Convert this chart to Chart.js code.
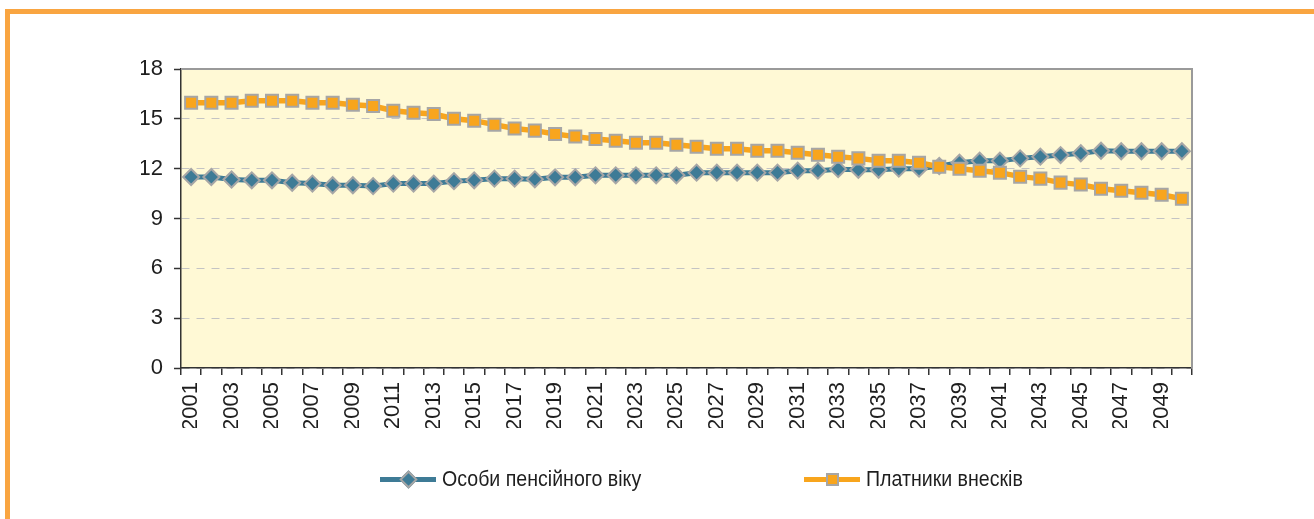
<!DOCTYPE html>
<html lang="uk">
<head>
<meta charset="utf-8">
<title>Особи пенсійного віку та платники внесків</title>
<script src="https://cdn.jsdelivr.net/npm/chart.js@4.4.1/dist/chart.umd.min.js"></script>
<style>
    html, body { margin: 0; padding: 0; background: #fff; }
    body { width: 1314px; height: 519px; position: relative; overflow: hidden;
           font-family: "Liberation Sans Narrow", "Arial Narrow", "Liberation Sans", Arial, sans-serif; }
    .frame { position: absolute; left: 5px; top: 9px; width: 1400px; height: 600px;
             border-top: 5px solid #F9A541; border-left: 5px solid #F9A541; }
    #chart { position: absolute; left: 0; top: 0; }
    .legend-item { position: absolute; top: 465px; height: 28px; display: flex; align-items: center; }
    .legend-icon { position: relative; width: 56px; height: 5px; margin-right: 6px; flex: none; }
    .legend-icon .mark { position: absolute; left: 50%; top: 50%; box-sizing: border-box; border: 2px solid #A6A6A6; }
    .legend-text { font-size: 22px; color: #1e1e1e; white-space: nowrap;
                   display: inline-block; transform: scaleX(0.89); transform-origin: left center; }
</style>
</head>
<body>
<div class="frame"></div>
<canvas id="chart" width="1314" height="519"></canvas>

<div class="legend-item" style="left: 380px;">
    <div class="legend-icon" style="background:#3E7B96;">
        <div class="mark" style="width:13px;height:13px;margin:-6.5px 0 0 -6.5px;background:#3E7B96;transform:rotate(45deg);"></div>
    </div>
    <span class="legend-text">Особи пенсійного віку</span>
</div>
<div class="legend-item" style="left: 804px;">
    <div class="legend-icon" style="background:#F8A51D;">
        <div class="mark" style="width:13px;height:13px;margin:-6.5px 0 0 -6.5px;background:#F8A51D;"></div>
    </div>
    <span class="legend-text">Платники внесків</span>
</div>

<script>
// Роки (категорії осі X)
const years = [
    "2001", "2002", "2003", "2004", "2005", "2006", "2007", "2008", "2009", "2010",
    "2011", "2012", "2013", "2014", "2015", "2016", "2017", "2018", "2019", "2020",
    "2021", "2022", "2023", "2024", "2025", "2026", "2027", "2028", "2029", "2030",
    "2031", "2032", "2033", "2034", "2035", "2036", "2037", "2038", "2039", "2040",
    "2041", "2042", "2043", "2044", "2045", "2046", "2047", "2048", "2049", "2050"
];

// Особи пенсійного віку
const pensioners = [
    11.5, 11.5, 11.35, 11.3, 11.3, 11.15, 11.1, 11.0, 11.0, 10.95,
    11.1, 11.1, 11.1, 11.25, 11.3, 11.4, 11.4, 11.36, 11.48, 11.48,
    11.6, 11.6, 11.6, 11.6, 11.6, 11.76, 11.76, 11.76, 11.76, 11.76,
    11.88, 11.88, 11.97, 11.93, 11.93, 12.0, 12.0, 12.16, 12.36, 12.48,
    12.48, 12.62, 12.72, 12.82, 12.93, 13.08, 13.05, 13.05, 13.05, 13.05
];

// Платники внесків
const contributors = [
    15.97, 15.97, 15.97, 16.09, 16.09, 16.09, 15.97, 15.97, 15.85, 15.77,
    15.49, 15.37, 15.29, 15.01, 14.89, 14.65, 14.42, 14.29, 14.09, 13.93,
    13.79, 13.68, 13.56, 13.56, 13.44, 13.32, 13.2, 13.2, 13.08, 13.08,
    12.96, 12.84, 12.72, 12.62, 12.48, 12.48, 12.36, 12.12, 12.0, 11.88,
    11.76, 11.52, 11.4, 11.16, 11.04, 10.79, 10.67, 10.55, 10.43, 10.19
];

// Підписи осі Y
const yTicks = [0, 3, 6, 9, 12, 15, 18];

const FONT = "'Liberation Sans Narrow', 'Arial Narrow', 'Liberation Sans', Arial, sans-serif";

// Фон області побудови та рамка зверху/справа
const plotFrame = {
    id: "plotFrame",
    beforeDraw(chart) {
        const { ctx, chartArea: a } = chart;
        ctx.save();
        ctx.fillStyle = "#FFF9D5";
        ctx.fillRect(a.left, a.top, a.right - a.left, a.bottom - a.top);
        ctx.restore();
    },
    afterDatasetsDraw(chart) {
        const { ctx, chartArea: a } = chart;
        ctx.save();
        ctx.strokeStyle = "#9A9A9A";
        ctx.lineWidth = 2;
        ctx.beginPath();
        ctx.moveTo(a.left, a.top);
        ctx.lineTo(a.right, a.top);
        ctx.lineTo(a.right, a.bottom);
        ctx.stroke();
        ctx.restore();
    }
};

new Chart(document.getElementById("chart"), {
    type: "line",
    data: {
        labels: years,
        datasets: [
            {
                label: "Платники внесків",
                data: contributors,
                borderColor: "#F8A51D",
                borderWidth: 5.5,
                pointStyle: "rect",
                pointRadius: 8.5,
                pointBackgroundColor: "#F8A51D",
                pointBorderColor: "#A6A6A6",
                pointBorderWidth: 2,
                tension: 0
            },
            {
                label: "Особи пенсійного віку",
                data: pensioners,
                borderColor: "#3E7B96",
                borderWidth: 5,
                pointStyle: "rectRot",
                pointRadius: 8,
                pointBackgroundColor: "#3E7B96",
                pointBorderColor: "#A6A6A6",
                pointBorderWidth: 2,
                tension: 0
            }
        ]
    },
    options: {
        responsive: false,
        animation: false,
        layout: { padding: { left: 141, right: 122, top: 69, bottom: 91 } },
        plugins: {
            legend: { display: false },
            tooltip: { enabled: false }
        },
        scales: {
            x: {
                type: "category",
                offset: true,
                grid: {
                    offset: true,
                    drawOnChartArea: false,
                    tickLength: 7,
                    tickColor: "#333",
                    lineWidth: 1.5
                },
                border: { color: "#333", width: 1.5 },
                ticks: {
                    autoSkip: false,
                    minRotation: 90,
                    maxRotation: 90,
                    padding: 7,
                    color: "#1e1e1e",
                    font: { family: FONT, size: 22 },
                    callback: function (value, index) {
                        return index % 2 === 0 ? years[index] : "";
                    }
                },
                afterFit(scale) { scale.height = 60; }
            },
            y: {
                min: yTicks[0],
                max: yTicks[yTicks.length - 1],
                afterBuildTicks(scale) {
                    scale.ticks = yTicks.map(v => ({ value: v }));
                },
                grid: {
                    color: "#C4C4C4",
                    lineWidth: 1,
                    tickLength: 7,
                    tickColor: "#333",
                    tickBorderDash: [],
                    tickWidth: 1.5
                },
                border: { color: "#333", width: 1.5, dash: [8, 7] },
                ticks: {
                    padding: 11,
                    color: "#1e1e1e",
                    font: { family: FONT, size: 22 }
                },
                afterFit(scale) { scale.width = 40; }
            }
        }
    },
    plugins: [plotFrame]
});
</script>
</body>
</html>
